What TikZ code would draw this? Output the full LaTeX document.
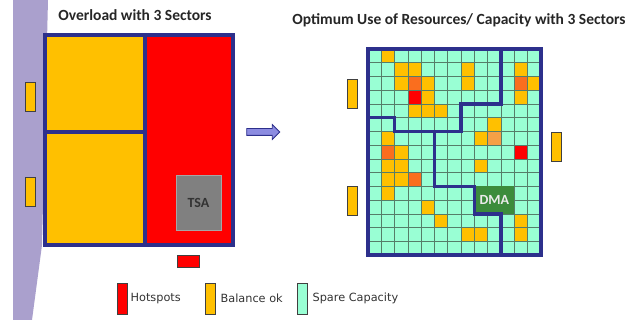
\documentclass[tikz,border=0pt]{standalone}
\usepackage{fontspec}
\setmainfont{Carlito}
\newfontfamily\legendfont{DejaVu Sans}
\usepackage{tikz}
\usetikzlibrary{shapes.arrows, positioning}

\definecolor{sectorblue}{RGB}{45,48,140}
\definecolor{hotred}{RGB}{255,0,0}
\definecolor{balamber}{RGB}{255,192,0}
\definecolor{warmorange}{RGB}{250,110,30}
\definecolor{softorange}{RGB}{245,160,70}
\definecolor{sparecyan}{RGB}{153,255,212}
\definecolor{gridline}{RGB}{85,125,105}
\definecolor{dmagreen}{RGB}{60,140,60}
\definecolor{tsagray}{RGB}{128,128,128}
\definecolor{bandlilac}{RGB}{170,160,205}
\definecolor{arrowfill}{RGB}{140,140,225}

\begin{document}
\begin{tikzpicture}[x=1pt, y=-1pt, title/.style={font=\fontsize{15.5}{18}\selectfont\bfseries, text=black!85, anchor=base, inner sep=0pt}, legendtext/.style={font=\legendfont\fontsize{11.3}{13}\selectfont, text=black!80, inner sep=0pt}, flag/.style={draw=black!75, line width=0.8pt, fill=balamber, minimum width=10pt, minimum height=29pt, inner sep=0pt}, key/.style={draw=black!75, line width=0.8pt, minimum width=10pt, minimum height=31pt, inner sep=0pt}, tsabox/.style={draw=black!35, line width=0.8pt, fill=tsagray, minimum width=45pt, minimum height=55pt, font=\fontsize{14}{16}\selectfont\bfseries, text=black!80}, dmabox/.style={fill=dmagreen, minimum width=39.9pt, minimum height=27.5pt, inner sep=0pt, font=\fontsize{14}{16}\selectfont\bfseries, text=black!8}, wall/.style={draw=sectorblue, line width=3.5pt, line join=miter}, blockarrow/.style={single arrow, draw=sectorblue, fill=arrowfill, line width=0.8pt, inner sep=3pt, minimum height=33pt, minimum width=14pt, single arrow head extend=4pt}]

    \useasboundingbox (0,0) rectangle (642,320);

    %Band
    \fill[bandlilac] (13,0) -- (48,0) -- (42,245) -- (32,320) -- (13,320) -- cycle;

    %Titles
    \node[title](overloadtitle) at (135,20.7) {Overload with 3 Sectors};
    \node[title](optimumtitle) at (459,25) {Optimum Use of Resources/ Capacity with 3 Sectors};

    %Left sectors
    \fill[balamber] (45,35) rectangle (145,245);
    \fill[hotred] (145,35) rectangle (233,245);
    \node[tsabox](tsa) at (198.5,202.5) {TSA};
    \draw[wall] (145,35) -- (145,245);
    \draw[wall] (45,132) -- (145,132);
    \draw[wall] (45,35) rectangle (233,245);

    \node[flag](leftflagup) at (30.5,96.5) {};
    \node[flag](leftflagdown) at (30,192) {};
    \node[flag, fill=hotred, minimum width=22pt, minimum height=12pt](redflag) at (188,261) {};

    %Arrow
    \node[blockarrow](shiftarrow) at (261.5,132) {};

    %Right grid
    \begin{scope}[shift={(368pt,-49pt)}, x=13.3pt, y=-13.75pt]
        \fill[sparecyan] (0,0) rectangle (13,15);
        \foreach \c/\r in {2/1, 3/2, 4/2, 8/2, 12/2, 3/3, 5/3, 8/3, 13/3, 5/4, 12/4, 4/5, 5/5, 6/5, 10/6, 2/7, 9/7, 3/8, 2/9, 3/9, 9/9, 2/10, 3/10, 2/11, 5/12, 6/13, 12/13, 8/14, 9/14, 12/14}
            \fill[balamber] ({\c-1},{\r-1}) rectangle (\c,\r);
        \foreach \c/\r in {4/3, 12/3, 2/8, 4/10}
            \fill[warmorange] ({\c-1},{\r-1}) rectangle (\c,\r);
        \fill[softorange] (9,6) rectangle (10,7);
        \foreach \c/\r in {4/4, 12/8}
            \fill[hotred] ({\c-1},{\r-1}) rectangle (\c,\r);
        \foreach \c in {1,...,12}
            \draw[gridline, line width=0.7pt] (\c,0) -- (\c,15);
        \foreach \r in {1,...,14}
            \draw[gridline, line width=0.7pt] (0,\r) -- (13,\r);
        \node[dmabox](dma) at (9.5,11) {DMA};

        %Lines
        \draw[wall] (0,5) -- (2,5) -- (2,6) -- (7,6) -- (7,4) -- (10,4) -- (10,0);
        \draw[wall] (5,6) -- (5,10) -- (8,10) -- (8,12) -- (10,12) -- (10,15);
        \draw[wall] (0,0) rectangle (13,15);
    \end{scope}

    \node[flag](rightflagup) at (352,94) {};
    \node[flag](rightflagdown) at (352,201) {};
    \node[flag](rightflagside) at (556,147) {};

    %Legend
    \node[key, fill=hotred](keyhot) at (122,298.5) {};
    \node[legendtext, right=3pt of keyhot](hottext) {Hotspots};
    \node[key, fill=balamber](keybalance) at (210,298.5) {};
    \node[legendtext, right=5pt of keybalance](balancetext) {Balance ok};
    \node[key, fill=sparecyan](keyspare) at (302,298.5) {};
    \node[legendtext, right=5pt of keyspare](sparetext) {Spare Capacity};

\end{tikzpicture}
\end{document}
